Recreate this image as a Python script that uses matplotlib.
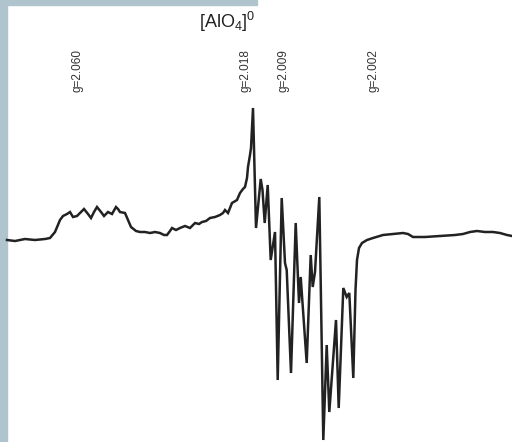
import numpy as np
import matplotlib.pyplot as plt
from matplotlib.patches import Rectangle

plt.rcParams['mathtext.default'] = 'regular'

## EPR trace (field in arbitrary units, signal relative to baseline)
field = [7, 15, 25, 35, 45, 50, 55, 60, 63, 67, 70, 73, 77, 80, 84, 88, 91, 94, 97, 101,
         104, 108, 112, 116, 118, 120, 125, 128, 131, 136, 140, 145, 150, 155, 160, 164,
         167, 170, 172, 176, 180, 185, 190, 195, 199, 202, 206, 210, 215, 220, 223, 225,
         228, 232, 237, 240, 243, 245, 247, 248, 250, 251, 253, 256, 260.7, 262.5, 264.7,
         267.7, 270.7, 275, 277.7, 281.7, 285, 286.7, 291, 295.7, 299, 300.7, 306.7, 310.7,
         312.7, 315, 319.3, 323.3, 326.7, 329.3, 336, 338.7, 343.3, 346.7, 349.3, 353.3,
         355.5, 357, 359, 362, 367, 373, 383, 393, 403, 408, 413, 425, 440, 455, 463, 470,
         477, 485, 493, 500, 507, 512]
ypix = [240, 241, 239, 240, 239, 238, 232, 220, 216, 214, 212, 217, 216, 213, 209, 214, 218,
        212, 207, 212, 216, 212, 214, 207, 209, 212, 213, 220, 227, 231, 232, 232, 233, 232,
        233, 235, 235, 231, 228, 230, 228, 226, 228, 223, 224, 222, 221, 218, 217, 215, 213,
        210, 213, 203, 200, 193, 189, 187, 178, 167, 155, 148, 108, 228, 179, 190, 223, 185,
        260, 232, 380, 198, 263, 270, 373, 223, 303, 277, 363, 255, 287, 272, 197, 440, 345,
        412, 320, 408, 288, 297, 293, 378, 290, 260, 248, 243, 240, 238, 235, 234, 233, 234,
        237, 237, 236, 235, 234, 232, 231, 232, 232, 233, 235, 236]
signal = [240 - v for v in ypix]

g_labels = ['g=2.060', 'g=2.018', 'g=2.009', 'g=2.002']
g_pos = [78, 246, 284, 374]
title = r'[AlO$_4$]$^0$'

fig = plt.figure(figsize=(5.12, 4.42), dpi=100)
ax = fig.add_axes([0, 0, 1, 1])
ax.set_xlim(0, 512)
ax.set_ylim(-202, 240)
ax.axis('off')

# light blue slide border
ax.add_patch(Rectangle((0, -202), 7, 442, color='#b0c4cd', zorder=0))
ax.add_patch(Rectangle((0, 235), 257, 5, color='#b0c4cd', zorder=0))

ax.plot(field, signal, color='#222222', lw=1.8, solid_joinstyle='miter')

ax.text(227, 218, title, ha='center', va='center', fontsize=13,
        family=['Liberation Sans', 'DejaVu Sans'], color='#222222')
for lab, x in zip(g_labels, g_pos):
    ax.text(x, 169, lab, rotation=90, ha='center', va='center', fontsize=8.5,
            family=['Liberation Sans Narrow', 'Liberation Sans', 'DejaVu Sans'], color='#333333')

fig.savefig('out.png', dpi=100)
